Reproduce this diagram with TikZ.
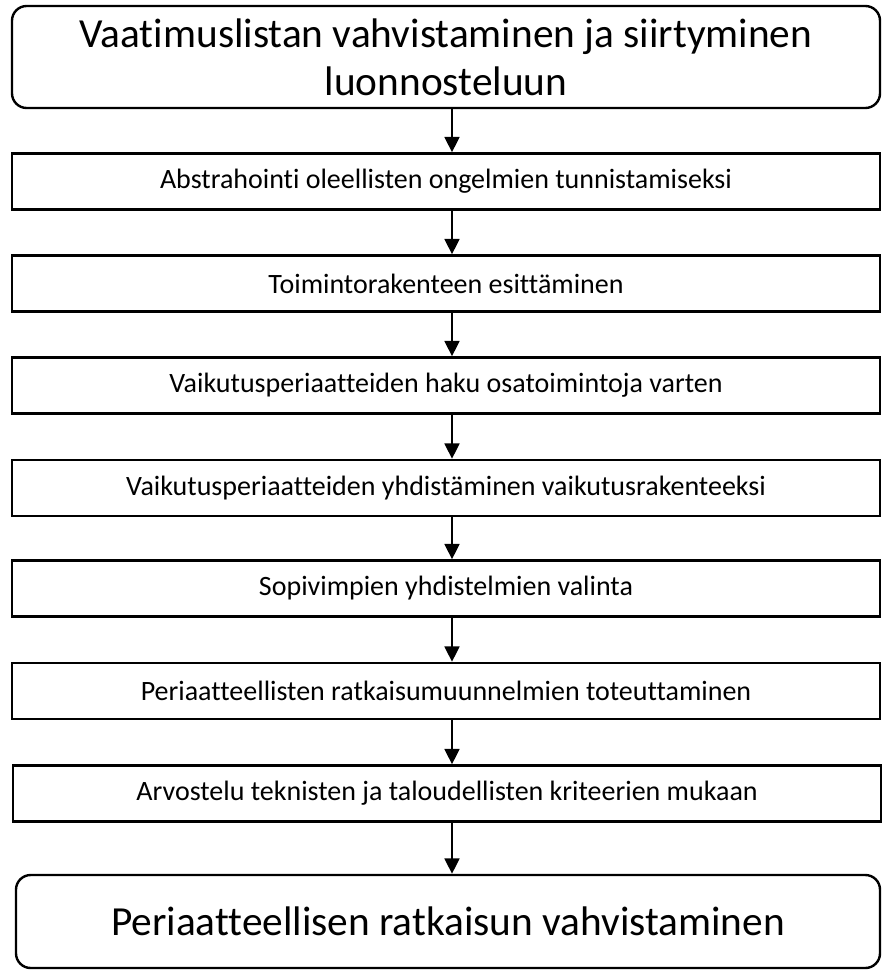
\documentclass[tikz,border=0pt]{standalone}
\usepackage{fontspec}
\setmainfont{Carlito}[Ligatures=NoCommon]
\usetikzlibrary{arrows.meta}
\tikzset{
  bigbox/.style={draw=black, line width=1.8pt, rounded corners=11pt, align=center,
    inner sep=0pt, font=\fontsize{31}{36}\selectfont},
  stepbox/.style={draw=black, line width=1.8pt, minimum width=651pt, minimum height=42pt,
    inner sep=0pt, font=\fontsize{21}{25}\selectfont},
  arr/.style={line width=2pt, -{Triangle[length=11.5pt,width=11pt]}}
}
\begin{document}
\begin{tikzpicture}[x=0.75pt,y=-0.75pt]
\useasboundingbox (0,0) rectangle (881,970);
\coordinate (ax) at (452,0);
\node[bigbox, minimum width=651pt, minimum height=76.5pt] (top) at (446,57)
  {Vaatimuslistan vahvistaminen ja siirtyminen\\luonnosteluun};
\node[stepbox] (s1) at (446,181.5) {Abstrahointi oleellisten ongelmien tunnistamiseksi};
\node[stepbox] (s2) at (446,283.5) {Toimintorakenteen esittäminen};
\node[stepbox] (s3) at (446,385.5) {Vaikutusperiaatteiden haku osatoimintoja varten};
\node[stepbox] (s4) at (446,488) {Vaikutusperiaatteiden yhdistäminen vaikutusrakenteeksi};
\node[stepbox] (s5) at (446,588.5) {Sopivimpien yhdistelmien valinta};
\node[stepbox] (s6) at (446,691) {Periaatteellisten ratkaisumuunnelmien toteuttaminen};
\node[stepbox] (s7) at (447,793.5) {Arvostelu teknisten ja taloudellisten kriteerien mukaan};
\node[bigbox, minimum width=648pt, minimum height=69.75pt] (bot) at (448,921.5)
  {Periaatteellisen ratkaisun vahvistaminen};
\draw[arr] (top.south -| ax) -- (s1.north -| ax);
\draw[arr] (s1.south -| ax) -- (s2.north -| ax);
\draw[arr] (s2.south -| ax) -- (s3.north -| ax);
\draw[arr] (s3.south -| ax) -- (s4.north -| ax);
\draw[arr] (s4.south -| ax) -- (s5.north -| ax);
\draw[arr] (s5.south -| ax) -- (s6.north -| ax);
\draw[arr] (s6.south -| ax) -- (s7.north -| ax);
\draw[arr] (s7.south -| ax) -- (bot.north -| ax);
\end{tikzpicture}
\end{document}
